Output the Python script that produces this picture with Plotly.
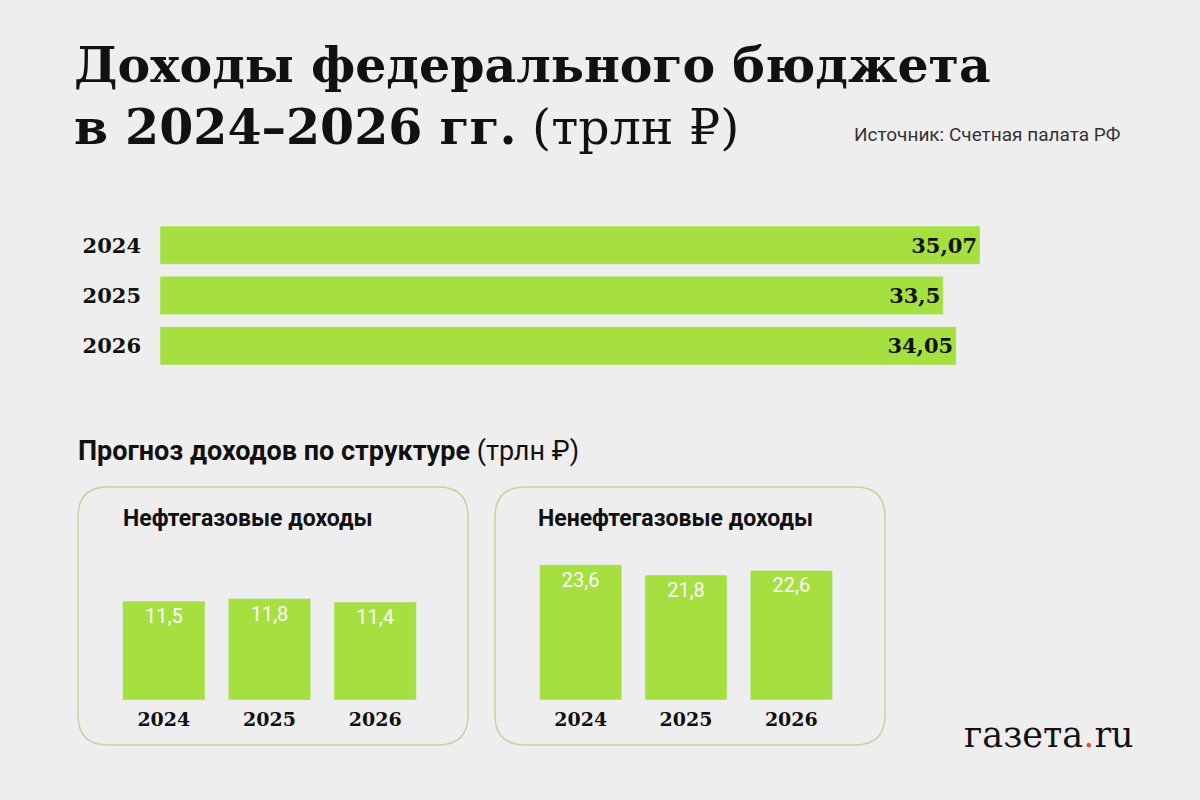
import plotly.graph_objects as go

years = ["2024", "2025", "2026"]
total = [35.07, 33.5, 34.05]
total_lbl = ["35,07", "33,5", "34,05"]
oil = [11.5, 11.8, 11.4]
oil_lbl = ["11,5", "11,8", "11,4"]
nonoil = [23.6, 21.8, 22.6]
nonoil_lbl = ["23,6", "21,8", "22,6"]

GREEN = "#a5e040"
BG = "#efeeef"
SERIF = "DejaVu Serif"
SANS = "Roboto"

def px(x): return x / 1200
def py(y): return 1 - y / 800

fig = go.Figure()
fig.add_trace(go.Bar(y=years, x=total, orientation="h", marker_color=GREEN, width=0.76,
                     text=["<b>%s</b>" % t for t in total_lbl], textposition="inside",
                     insidetextanchor="end", textfont=dict(family=SERIF, size=21, color="#111"),
                     xaxis="x", yaxis="y", hoverinfo="skip"))
fig.add_trace(go.Bar(x=years, y=oil, marker_color=GREEN, width=0.78,
                     text=oil_lbl, textposition="inside", insidetextanchor="end",
                     textfont=dict(family=SANS, size=20, color="white"),
                     xaxis="x2", yaxis="y2", hoverinfo="skip"))
fig.add_trace(go.Bar(x=years, y=nonoil, marker_color=GREEN, width=0.78,
                     text=nonoil_lbl, textposition="inside", insidetextanchor="end",
                     textfont=dict(family=SANS, size=20, color="white"),
                     xaxis="x3", yaxis="y3", hoverinfo="skip"))

hid = dict(showgrid=False, zeroline=False, showticklabels=False, showline=False, fixedrange=True)
cat_x = dict(showgrid=False, zeroline=False, showline=False, ticks="", fixedrange=True,
             tickprefix="<b>", ticksuffix="</b>", ticklabelstandoff=6,
             tickfont=dict(family=SERIF, size=19, color="#111"))

fig.update_layout(
    width=1200, height=800, margin=dict(l=0, r=0, t=0, b=0),
    paper_bgcolor=BG, plot_bgcolor="rgba(0,0,0,0)", showlegend=False,
    xaxis=dict(domain=[px(160), px(980)], range=[0, 35.07], **hid),
    yaxis=dict(domain=[py(371), py(220)], autorange="reversed", showgrid=False, zeroline=False,
               showline=False, ticks="", ticklabelstandoff=18, fixedrange=True,
               tickprefix="<b>", ticksuffix="</b>",
               tickfont=dict(family=SERIF, size=21, color="#111")),
    xaxis2=dict(domain=[px(111), px(428)], anchor="y2", **cat_x),
    yaxis2=dict(domain=[py(700), py(528)], range=[0, 20], anchor="x2", **hid),
    xaxis3=dict(domain=[px(528), px(844)], anchor="y3", **cat_x),
    yaxis3=dict(domain=[py(700), py(528)], range=[0, 30], anchor="x3", **hid),
)

for x0, x1 in [(78, 468), (495, 885)]:
    r = 30
    y0, y1 = 487, 745
    path = (f"M {px(x0+r)},{py(y0)} L {px(x1-r)},{py(y0)} Q {px(x1)},{py(y0)} {px(x1)},{py(y0+r)} "
            f"L {px(x1)},{py(y1-r)} Q {px(x1)},{py(y1)} {px(x1-r)},{py(y1)} "
            f"L {px(x0+r)},{py(y1)} Q {px(x0)},{py(y1)} {px(x0)},{py(y1-r)} "
            f"L {px(x0)},{py(y0+r)} Q {px(x0)},{py(y0)} {px(x0+r)},{py(y0)} Z")
    fig.add_shape(type="path", path=path, xref="paper", yref="paper",
                  line=dict(color="#c5d3a3", width=1.5), fillcolor="rgba(0,0,0,0)", layer="below")

def ann(x, y, text, size, family, color="#111", xanchor="left", yanchor="middle"):
    fig.add_annotation(x=px(x), y=py(y), xref="paper", yref="paper", text=text, showarrow=False,
                       xanchor=xanchor, yanchor=yanchor, font=dict(family=family, size=size, color=color))

ann(72, 65, "<b>Доходы федерального бюджета</b>", 49, SERIF)
ann(72, 127, "<b>в 2024–2026 гг.</b> (трлн ₽)", 49, SERIF)
ann(1122, 134, "Источник: Счетная палата РФ", 19, SANS, color="#333", xanchor="right")
ann(76, 451, "<b>Прогноз доходов по структуре</b> (трлн ₽)", 27, SANS)
ann(121, 518, "<b>Нефтегазовые доходы</b>", 23, SANS)
ann(536, 518, "<b>Ненефтегазовые доходы</b>", 23, SANS)
ann(1136, 735, "газета<span style='color:#e8502a'>.</span>ru", 35, SERIF, xanchor="right")

fig.write_html("out.html", config={"displayModeBar": False},
               post_script="document.body.style.margin='0';")
